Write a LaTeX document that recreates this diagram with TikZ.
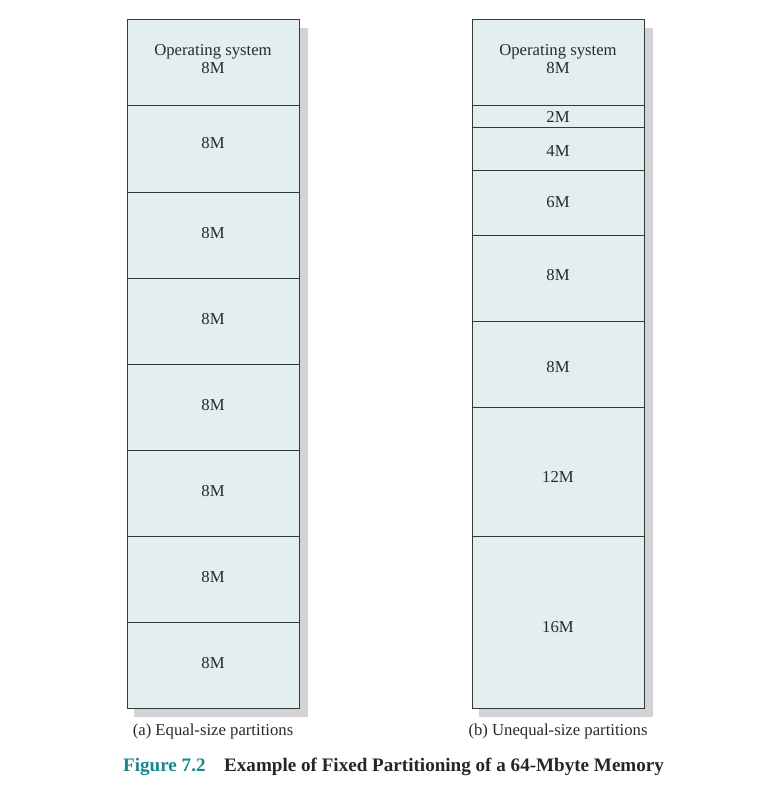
\documentclass[tikz,border=0pt]{standalone}
\usepackage{fontspec}
\setmainfont{Liberation Serif}
\usepackage{tikz}
\usetikzlibrary{calc}
\definecolor{partfill}{HTML}{E2EEF0}
\definecolor{shadowgray}{HTML}{D3D3D5}
\definecolor{edgegray}{HTML}{383838}
\definecolor{labelgray}{HTML}{2A2A2A}
\definecolor{figteal}{HTML}{17898A}
\def\partline(#1)(#2){\draw[line width=1pt, color=edgegray] (#1) -- (#2);}

\begin{document}
\begin{tikzpicture}[x=1pt, y=-1pt, font=\fontsize{16.7}{18}\selectfont]
			%%%%% START %%%%%
			\useasboundingbox (0,0) rectangle (756,797);
			
			\fill[shadowgray] (134,28) rectangle (308,717);
			\fill[shadowgray] (479,28) rectangle (653,717);
			
			% (a) equal-size
			\draw[line width=1pt, color=edgegray, fill=partfill] (127,20) rectangle (299,708);
			\partline(127,106)(299,106)
			\partline(127,192)(299,192)
			\partline(127,278)(299,278)
			\partline(127,364)(299,364)
			\partline(127,450)(299,450)
			\partline(127,536)(299,536)
			\partline(127,622)(299,622)
			
			\node[align=center, text=labelgray] (osA) at (213,59.5) {Operating system\\8M};
			\node[text=labelgray] (a1) at (213,143) {8M};
			\node[text=labelgray] (a2) at (213,233) {8M};
			\node[text=labelgray] (a3) at (213,319) {8M};
			\node[text=labelgray] (a4) at (213,405) {8M};
			\node[text=labelgray] (a5) at (213,491) {8M};
			\node[text=labelgray] (a6) at (213,577) {8M};
			\node[text=labelgray] (a7) at (213,663) {8M};
			
			% (b) unequal-size
			\draw[line width=1pt, color=edgegray, fill=partfill] (472,20) rectangle (644,708);
			\partline(472,106)(644,106)
			\partline(472,127.5)(644,127.5)
			\partline(472,170.5)(644,170.5)
			\partline(472,235)(644,235)
			\partline(472,321)(644,321)
			\partline(472,407)(644,407)
			\partline(472,536)(644,536)
			
			\node[align=center, text=labelgray] (osB) at (558,59.5) {Operating system\\8M};
			\node[text=labelgray] (b2) at (558,116.5) {2M};
			\node[text=labelgray] (b4) at (558,151) {4M};
			\node[text=labelgray] (b6) at (558,202) {6M};
			\node[text=labelgray] (b8a) at (558,275) {8M};
			\node[text=labelgray] (b8b) at (558,367) {8M};
			\node[text=labelgray] (b12) at (558,477) {12M};
			\node[text=labelgray] (b16) at (558,627) {16M};
			
			\node[text=labelgray] (capA) at (213,731) {(a) Equal-size partitions};
			\node[text=labelgray] (capB) at (558,731) {(b) Unequal-size partitions};
			
			\node[anchor=west, inner sep=0pt, font=\fontsize{19.1}{20}\selectfont\bfseries, text=figteal] (fignum) at (123,767) {Figure 7.2};
			\node[anchor=west, inner sep=0pt, font=\fontsize{19.1}{20}\selectfont\bfseries, text=black!85] (figtitle) at (224,767) {Example of Fixed Partitioning of a 64-Mbyte Memory};
			
			%%%%% END %%%%%
\end{tikzpicture}
\end{document}
